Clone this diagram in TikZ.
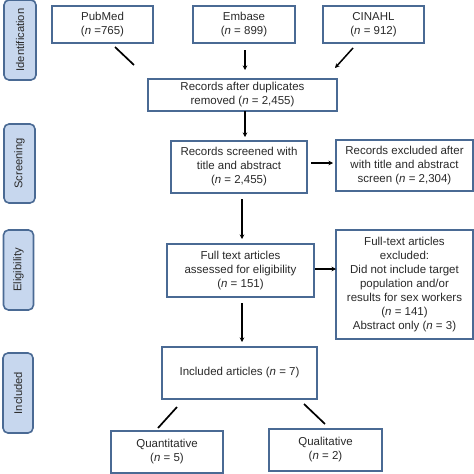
\documentclass[tikz,border=0pt]{standalone}
\usepackage{fontspec}
\setmainfont{Liberation Sans}
\usetikzlibrary{arrows.meta}
\definecolor{boxblue}{HTML}{4A6A94}
\definecolor{sidefill}{HTML}{C7D7EE}
\definecolor{txt}{HTML}{2A2A2A}
\tikzset{
  box/.style={draw=boxblue, line width=1.6pt, fill=white, align=center, text=txt,
    font=\fontsize{11.5}{14}\selectfont, inner sep=0pt},
  side/.style={draw=boxblue, line width=1.6pt, fill=sidefill, rounded corners=5pt,
    text=txt, font=\fontsize{11.2}{13}\selectfont, inner sep=0pt},
  arr/.style={line width=1.5pt, -{Stealth[length=4.5pt,width=4.5pt]}},
  ln/.style={line width=1.7pt}
}
\begin{document}
\begin{tikzpicture}[x=1pt,y=-1pt]
\useasboundingbox (0,0) rectangle (474,474);
% side labels
\node[side, minimum width=32pt, minimum height=80pt] (sid) at (20,40) {\rotatebox{90}{Identification}};
\node[side, minimum width=31pt, minimum height=79pt] (ssc) at (19.5,163.5) {\rotatebox{90}{Screening}};
\node[side, minimum width=30pt, minimum height=80pt] (sel) at (18.5,270) {\rotatebox{90}{Eligibility}};
\node[side, minimum width=30pt, minimum height=80pt] (sin) at (18,393) {\rotatebox{90}{Included}};
% boxes
\node[box, minimum width=101pt, minimum height=37pt] (pub) at (102.5,24.5) {PubMed\\(\textit{n} =765)};
\node[box, minimum width=102pt, minimum height=37pt] (emb) at (244,24.5) {Embase\\(\textit{n} = 899)};
\node[box, minimum width=101pt, minimum height=37pt] (cin) at (373.5,24.5) {CINAHL\\(\textit{n} = 912)};
\node[box, minimum width=189pt, minimum height=32pt] (dup) at (242.5,95) {Records after duplicates\\removed (\textit{n} = 2,455)};
\node[box, minimum width=136pt, minimum height=52pt] (scr) at (239,167) {Records screened with\\title and abstract\\(\textit{n} = 2,455)};
\node[box, minimum width=137pt, minimum height=51pt] (ex1) at (404.5,165.5) {Records excluded after\\with title and abstract\\screen (\textit{n} = 2,304)};
\node[box, minimum width=147pt, minimum height=53pt] (ful) at (240.5,270.5) {Full text articles\\assessed for eligibility\\(\textit{n} = 151)};
\node[box, minimum width=137pt, minimum height=109pt] (ex2) at (404.5,284.5) {Full-text articles\\excluded:\\Did not include target\\population and/or\\results for sex workers\\(\textit{n} = 141)\\Abstract only (\textit{n} = 3)};
\node[box, minimum width=155pt, minimum height=52pt] (inc) at (239.5,373) {Included articles (\textit{n} = 7)};
\node[box, minimum width=112pt, minimum height=42pt] (qua) at (167,452) {Quantitative\\(\textit{n} = 5)};
\node[box, minimum width=113pt, minimum height=42pt] (qul) at (325.5,450) {Qualitative\\(\textit{n} = 2)};
% connector end points
\coordinate (p1) at (115,47); \coordinate (p2) at (134,65);
\coordinate (e1) at (245,50); \coordinate (e2) at (245,70);
\coordinate (c1) at (353,48); \coordinate (c2) at (335,68);
\coordinate (d1) at (245,111); \coordinate (d2) at (245,137);
\coordinate (s1) at (311,163); \coordinate (s2) at (333,163);
\coordinate (s3) at (242,199); \coordinate (s4) at (242,239);
\coordinate (f1) at (315,269); \coordinate (f2) at (336,269);
\coordinate (f3) at (242,303); \coordinate (f4) at (242,342);
\coordinate (i1) at (177,407); \coordinate (i2) at (158,428);
\coordinate (i3) at (304,404); \coordinate (i4) at (325,424);
% connectors
\draw[ln] (p1) -- (p2);
\draw[arr] (e1) -- (e2);
\draw[arr] (c1) -- (c2);
\draw[arr] (d1) -- (d2);
\draw[arr] (s1) -- (s2);
\draw[arr] (s3) -- (s4);
\draw[arr] (f1) -- (f2);
\draw[arr] (f3) -- (f4);
\draw[ln] (i1) -- (i2);
\draw[ln] (i3) -- (i4);
\end{tikzpicture}
\end{document}
